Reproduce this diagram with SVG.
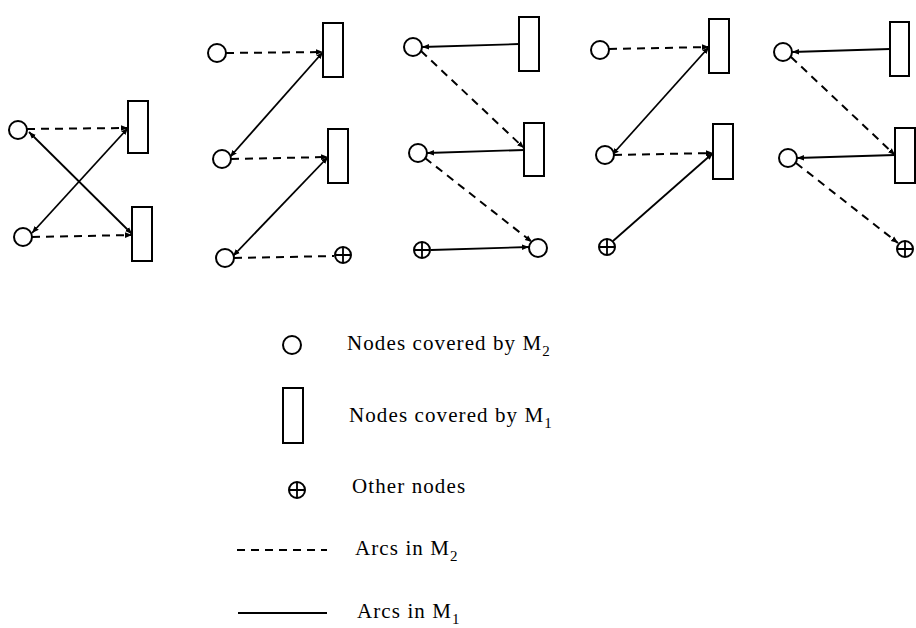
<svg xmlns="http://www.w3.org/2000/svg" width="916" height="628" viewBox="0 0 916 628">
<style>
.n{fill:#fff;stroke:#000;stroke-width:2}
.s{stroke:#000;stroke-width:1.8;fill:none}
.d{stroke:#000;stroke-width:2;fill:none;stroke-dasharray:8 6}
.t{font-family:"Liberation Serif","Times New Roman",serif;font-size:21px;letter-spacing:1.1px;fill:#000}
.sub{font-size:15px}
</style>
<defs>
<marker id="a" viewBox="0 0 10 10" refX="10" refY="5" markerWidth="7" markerHeight="7" markerUnits="userSpaceOnUse" orient="auto-start-reverse">
<path d="M0,1 L10,5 L0,9 Z" fill="#000"/>
</marker>
<g id="plus"><circle r="8" class="n"/><path d="M-8,0H8M0,-8V8" stroke="#000" stroke-width="1.8"/></g>
</defs>
<rect width="916" height="628" fill="#fff"/>
<g id="connectors">
<!-- panel 1 -->
<line class="d" x1="27" y1="129" x2="128" y2="128" marker-end="url(#a)"/>
<line class="d" x1="32" y1="237" x2="132" y2="235" marker-end="url(#a)"/>
<line class="s" x1="29" y1="132" x2="132" y2="234" marker-start="url(#a)" marker-end="url(#a)"/>
<line class="s" x1="32" y1="233" x2="128" y2="128" marker-start="url(#a)" marker-end="url(#a)"/>
<!-- panel 2 -->
<line class="d" x1="226" y1="53" x2="323" y2="52" marker-end="url(#a)"/>
<line class="s" x1="323" y1="52" x2="230" y2="157" marker-start="url(#a)" marker-end="url(#a)"/>
<line class="d" x1="231" y1="159" x2="328" y2="157" marker-end="url(#a)"/>
<line class="s" x1="328" y1="157" x2="233" y2="256" marker-start="url(#a)" marker-end="url(#a)"/>
<line class="d" x1="234" y1="258" x2="334" y2="256"/>
<!-- panel 3 -->
<line class="s" x1="519" y1="44" x2="422" y2="47" marker-end="url(#a)"/>
<line class="s" x1="524" y1="150" x2="427" y2="153" marker-end="url(#a)"/>
<line class="d" x1="421" y1="51" x2="524" y2="148" marker-end="url(#a)"/>
<line class="d" x1="425" y1="158" x2="532" y2="242" marker-end="url(#a)"/>
<line class="s" x1="431" y1="250" x2="529" y2="247" marker-end="url(#a)"/>
<!-- panel 4 -->
<line class="d" x1="609" y1="49" x2="709" y2="47" marker-end="url(#a)"/>
<line class="s" x1="709" y1="47" x2="612" y2="155" marker-start="url(#a)" marker-end="url(#a)"/>
<line class="d" x1="614" y1="155" x2="713" y2="153" marker-end="url(#a)"/>
<line class="s" x1="613" y1="241" x2="713" y2="153" marker-end="url(#a)"/>
<!-- panel 5 -->
<line class="s" x1="890" y1="49" x2="792" y2="52" marker-end="url(#a)"/>
<line class="s" x1="895" y1="155" x2="797" y2="158" marker-end="url(#a)"/>
<line class="d" x1="791" y1="57" x2="895" y2="155" marker-end="url(#a)"/>
<line class="d" x1="796" y1="163" x2="898" y2="243" marker-end="url(#a)"/>
</g>
<g id="p1-c1"><circle class="n" cx="18" cy="130" r="9"/></g>
<g id="p1-c2"><circle class="n" cx="23" cy="237" r="9"/></g>
<g id="p1-r1"><rect class="n" x="128" y="101" width="20" height="52"/></g>
<g id="p1-r2"><rect class="n" x="132" y="207" width="20" height="54"/></g>
<g id="p2-c1"><circle class="n" cx="217" cy="53" r="9"/></g>
<g id="p2-r1"><rect class="n" x="323" y="23" width="20" height="54"/></g>
<g id="p2-c2"><circle class="n" cx="222" cy="159" r="9"/></g>
<g id="p2-r2"><rect class="n" x="328" y="129" width="20" height="54"/></g>
<g id="p2-c3"><circle class="n" cx="225" cy="258" r="9"/></g>
<g id="p2-p1"><use href="#plus" x="343" y="255"/></g>
<g id="p3-r1"><rect class="n" x="519" y="17" width="20" height="54"/></g>
<g id="p3-c1"><circle class="n" cx="413" cy="47" r="9"/></g>
<g id="p3-r2"><rect class="n" x="524" y="123" width="20" height="53"/></g>
<g id="p3-c2"><circle class="n" cx="418" cy="153" r="9"/></g>
<g id="p3-c3"><circle class="n" cx="538" cy="248" r="9"/></g>
<g id="p3-p1"><use href="#plus" x="422" y="250"/></g>
<g id="p4-c1"><circle class="n" cx="600" cy="50" r="9"/></g>
<g id="p4-r1"><rect class="n" x="709" y="19" width="20" height="54"/></g>
<g id="p4-c2"><circle class="n" cx="605" cy="155" r="9"/></g>
<g id="p4-r2"><rect class="n" x="713" y="124" width="20" height="55"/></g>
<g id="p4-p1"><use href="#plus" x="607" y="247"/></g>
<g id="p5-c1"><circle class="n" cx="783" cy="52" r="9"/></g>
<g id="p5-r1"><rect class="n" x="890" y="22" width="19" height="54"/></g>
<g id="p5-c2"><circle class="n" cx="788" cy="158" r="9"/></g>
<g id="p5-r2"><rect class="n" x="895" y="128" width="20" height="55"/></g>
<g id="p5-p1"><use href="#plus" x="905" y="249"/></g>
<g id="legend">
<circle class="n" cx="292" cy="345" r="9"/>
<text class="t" x="347" y="350">Nodes covered by M<tspan class="sub" dy="6">2</tspan></text>
<rect class="n" x="283" y="388" width="20" height="55"/>
<text class="t" x="349" y="422">Nodes covered by M<tspan class="sub" dy="6">1</tspan></text>
<use href="#plus" x="297" y="490"/>
<text class="t" x="352" y="493">Other nodes</text>
<line class="d" x1="237" y1="550" x2="327" y2="550"/>
<text class="t" x="355" y="555">Arcs in M<tspan class="sub" dy="6">2</tspan></text>
<line class="s" x1="238" y1="613" x2="327" y2="613"/>
<text class="t" x="357" y="618">Arcs in M<tspan class="sub" dy="6">1</tspan></text>
</g>
</svg>
